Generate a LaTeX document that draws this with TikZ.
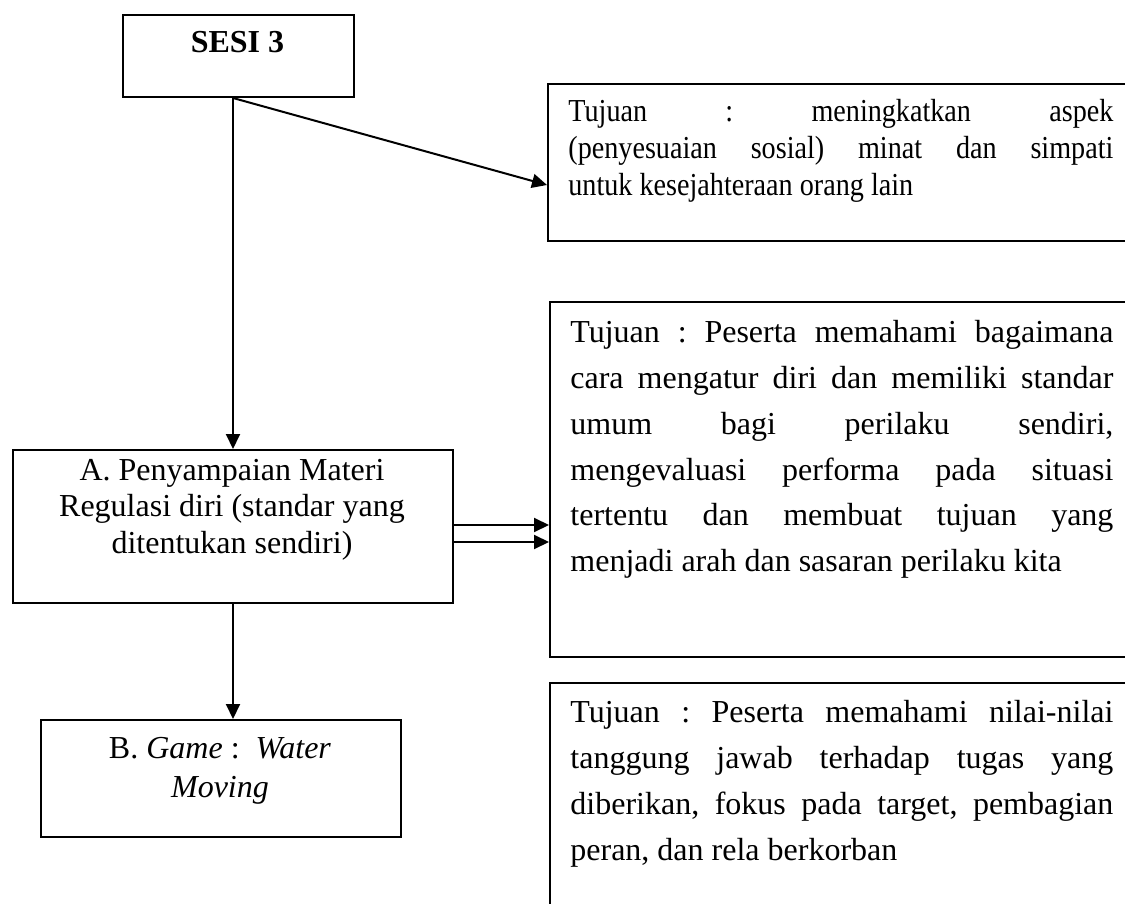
\documentclass[tikz,border=0pt]{standalone}
\usepackage{fontspec}
\setmainfont{Liberation Serif}
\newfontfamily\narrowserif[FakeStretch=0.88]{Liberation Serif}
\usetikzlibrary{arrows.meta,calc}
\frenchspacing
\begin{document}
\begin{tikzpicture}[x=0.5pt,y=-0.5pt,
  box/.style={draw, line width=1pt, inner sep=0pt, anchor=north west, rectangle},
  txt/.style={inner sep=0pt, font=\fontsize{16}{18.5}\selectfont},
  arr/.style={line width=1pt, -{Triangle[length=7.5pt,width=7pt]}}]
\useasboundingbox (0,0) rectangle (1125,904);
\clip (0,0) rectangle (1125,904);

% boxes
\node[box, minimum width=115.5pt, minimum height=41pt]  (sesi) at (122,14) {};
\node[box, minimum width=220pt,   minimum height=76.5pt] (a)   at (12,449) {};
\node[box, minimum width=180pt,   minimum height=58.5pt] (bb)  at (40,719) {};
\node[box, minimum width=296.5pt, minimum height=78.5pt] (b1)  at (547,83) {};
\node[box, minimum width=295.5pt, minimum height=177.5pt] (b2) at (549,301) {};
\node[box, minimum width=295.5pt, minimum height=125pt] (b3)   at (549,682) {};

% texts
\node[txt, anchor=base] (tsesi) at (237.5,53) {\textbf{SESI 3}};
\node[txt, anchor=base] (ta) at (232,480) {\parbox[t]{210pt}{\centering\fontsize{16}{18.25}\selectfont
  A. Penyampaian Materi\\ Regulasi diri (standar yang\\ ditentukan sendiri)}};
\node[txt, anchor=base] (tb) at (220,758) {\parbox[t]{170pt}{\centering\fontsize{16}{19.5}\selectfont
  B. \textit{Game} : \ \textit{Water}\\ \textit{Moving}}};

\node[txt, anchor=base west] (t1) at (568,122) {\parbox[t]{272.5pt}{\narrowserif\fontsize{16}{18.5}\selectfont
  \tolerance=10000\hbadness=10000
  Tujuan : meningkatkan aspek\linebreak
  (penyesuaian sosial) minat dan simpati\linebreak
  untuk kesejahteraan orang lain}};
\node[txt, anchor=base west] (t2) at (570,342) {\parbox[t]{271.5pt}{\fontsize{16}{23}\selectfont
  \tolerance=10000\hbadness=10000
  Tujuan : Peserta memahami bagaimana\linebreak
  cara mengatur diri dan memiliki standar\linebreak
  umum bagi perilaku sendiri,\linebreak
  mengevaluasi performa pada situasi\linebreak
  tertentu dan membuat tujuan yang\linebreak
  menjadi arah dan sasaran perilaku kita}};
\node[txt, anchor=base west] (t3) at (570,722) {\parbox[t]{271.5pt}{\fontsize{16}{23}\selectfont
  \tolerance=10000\hbadness=10000
  Tujuan : Peserta memahami nilai-nilai\linebreak
  tanggung jawab terhadap tugas yang\linebreak
  diberikan, fokus pada target, pembagian\linebreak
  peran, dan rela berkorban}};

% connectors
\coordinate (top) at (sesi.south -| a.north);
\draw[arr] (top) -- (a.north);
\draw[arr] (top) -- ([yshift=-11.25pt]b1.west);
\draw[arr] (a.south) -- (a.south |- bb.north);
\coordinate (a1) at ($(a.east)+(0,-1.5)$);
\coordinate (a2) at ($(a.east)+(0,15.5)$);
\draw[arr] (a1) -- (a1 -| b2.west);
\draw[arr] (a2) -- (a2 -| b2.west);
\end{tikzpicture}
\end{document}
